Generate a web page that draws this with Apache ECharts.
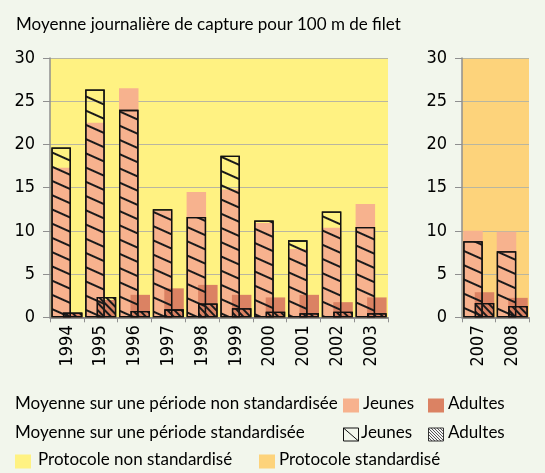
<!DOCTYPE html>
<html>
<head>
<meta charset="utf-8">
<script src="https://cdn.jsdelivr.net/npm/echarts@6/dist/echarts.min.js"></script>
<style>
html,body{margin:0;padding:0;background:#F2F6EC;}
#c{width:545px;height:473px;}
</style>
</head>
<body>
<div id="c"></div>
<script>
// Data
const years1 = ['1994','1995','1996','1997','1998','1999','2000','2001','2002','2003'];
const years2 = ['2007','2008'];
const jeunesNonStd1 = [17.3, 22.5, 26.5, 12.3, 14.5, 14.8, 10.9, 7.9, 10.35, 13.1];
const jeunesStd1    = [19.65, 26.35, 24.0, 12.5, 11.6, 18.7, 11.2, 8.9, 12.25, 10.45];
const adultesNonStd1 = [0.5, 2.0, 2.6, 3.35, 3.75, 2.6, 2.3, 2.6, 1.75, 2.3];
const adultesStd1    = [0.55, 2.35, 0.73, 0.92, 1.6, 1.04, 0.65, 0.46, 0.65, 0.46];
const jeunesNonStd2 = [10.0, 9.9];
const jeunesStd2    = [8.8, 7.65];
const adultesNonStd2 = [2.9, 2.25];
const adultesStd2    = [1.65, 1.3];
const yTicks = {min: 0, max: 30, interval: 5};

const title = 'Moyenne journalière de capture pour 100 m de filet';
const legendRow1 = 'Moyenne sur une période non standardisée';
const legendRow2 = 'Moyenne sur une période standardisée';
const legJeunes = 'Jeunes', legAdultes = 'Adultes';
const legProtoNon = 'Protocole non standardisé', legProto = 'Protocole standardisé';

const C = {
  bg: '#F2F6EC', yellow: '#FFF282', orange: '#FDD37B',
  pink: '#F7B28E', dark: '#DB8263', grid: '#B9B6A0', axis: '#8f8f8f', text: '#000000'
};
const txtFont = "Lato, 'Open Sans', sans-serif";
const numFont = "'DejaVu Sans Condensed', 'Liberation Sans Narrow', Lato, sans-serif";

const hatchJ = {symbol: 'rect', symbolSize: 1, dashArrayX: [1, 0], dashArrayY: [1.3, 11], rotation: 0.42, color: '#1a1a1a', backgroundColor: 'rgba(0,0,0,0)'};
const hatchA = {symbol: 'rect', symbolSize: 1, dashArrayX: [1, 0], dashArrayY: [1.2, 3], rotation: 0.8, color: '#1a1a1a', backgroundColor: 'rgba(0,0,0,0)'};

const BW = 19.5, GAP = '-41%';

function xAx(gridIndex, data, show) {
  return {
    type: 'category', gridIndex, data, show,
    axisLine: {show: true, lineStyle: {color: '#6e6e6e', width: 1.5}},
    axisTick: {show: true, length: 5, lineStyle: {color: C.axis}},
    axisLabel: {rotate: 90, fontFamily: numFont, fontSize: 18, color: C.text, margin: 8}
  };
}
function yAx(gridIndex) {
  return {
    type: 'value', gridIndex, min: yTicks.min, max: yTicks.max, interval: yTicks.interval,
    axisLine: {show: true, lineStyle: {color: C.axis, width: 1.5}},
    axisTick: {show: true, length: 7, lineStyle: {color: C.axis}},
    axisLabel: {fontFamily: numFont, fontSize: 18, color: C.text, margin: 15},
    splitLine: {show: true, lineStyle: {color: C.grid, width: 1.2}}
  };
}
function solid(name, xi, yi, data, color) {
  return {name, type: 'bar', xAxisIndex: xi, yAxisIndex: yi, data, barWidth: BW, barGap: GAP,
    itemStyle: {color}, silent: true, animation: false};
}
function hatched(name, xi, yi, data, decal) {
  return {name, type: 'bar', xAxisIndex: xi, yAxisIndex: yi, data, barWidth: BW, barGap: GAP,
    itemStyle: {color: 'rgba(0,0,0,0)', borderColor: '#111', borderWidth: 1.3, decal}, silent: true, animation: false};
}

function patternCanvas() {
  const cv = document.createElement('canvas');
  cv.width = 3; cv.height = 3;
  const g = cv.getContext('2d');
  g.fillStyle = '#f4f4f4'; g.fillRect(0, 0, 3, 3);
  g.fillStyle = '#555';
  g.fillRect(0, 0, 1, 1); g.fillRect(1, 1, 1, 1); g.fillRect(2, 2, 1, 1);
  return cv;
}

const chart = echarts.init(document.getElementById('c'), null, {renderer: 'canvas'});
const L1 = 405.5, L2 = 434.5, L3 = 461.5;
const sw = 16, sh = 14;
const lf = "17px " + txtFont;
chart.setOption({
  backgroundColor: C.bg,
  animation: false,
  title: {text: title, left: 11, top: 11, textStyle: {fontFamily: txtFont, fontSize: 17, fontWeight: 'normal', color: C.text}},
  grid: [
    {left: 50, top: 58, width: 338, height: 259.3, show: true, backgroundColor: C.yellow, borderWidth: 0},
    {left: 462, top: 58, width: 67, height: 259.3, show: true, backgroundColor: C.orange, borderWidth: 0}
  ],
  xAxis: [xAx(0, years1, true), xAx(0, years1, false), xAx(1, years2, true), xAx(1, years2, false)],
  yAxis: [yAx(0), yAx(1)],
  series: [
    solid('Jeunes NS', 0, 0, jeunesNonStd1, C.pink),
    solid('Adultes NS', 0, 0, adultesNonStd1, C.dark),
    hatched('Jeunes S', 1, 0, jeunesStd1, hatchJ),
    hatched('Adultes S', 1, 0, adultesStd1, hatchA),
    solid('Jeunes NS', 2, 1, jeunesNonStd2, C.pink),
    solid('Adultes NS', 2, 1, adultesNonStd2, C.dark),
    hatched('Jeunes S', 3, 1, jeunesStd2, hatchJ),
    hatched('Adultes S', 3, 1, adultesStd2, hatchA)
  ],
  graphic: [
    {type: 'text', left: 15, top: L1 - 10, style: {text: legendRow1, font: lf, fill: C.text}},
    {type: 'rect', shape: {x: 343, y: L1 - 7, width: sw, height: sh}, style: {fill: C.pink}},
    {type: 'text', left: 363, top: L1 - 10, style: {text: legJeunes, font: lf, fill: C.text}},
    {type: 'rect', shape: {x: 428, y: L1 - 7, width: sw, height: sh}, style: {fill: C.dark}},
    {type: 'text', left: 448, top: L1 - 10, style: {text: legAdultes, font: lf, fill: C.text}},

    {type: 'text', left: 15, top: L2 - 10, style: {text: legendRow2, font: lf, fill: C.text}},
    {type: 'rect', shape: {x: 343.5, y: L2 - 6.5, width: sw - 1, height: sh - 1}, style: {fill: 'rgba(0,0,0,0)', stroke: '#111', lineWidth: 1}},
    {type: 'line', shape: {x1: 343.5, y1: L2 - 6.5, x2: 343.5 + sw - 1, y2: L2 - 6.5 + sh - 1}, style: {stroke: '#111', lineWidth: 1}},
    {type: 'text', left: 361, top: L2 - 10, style: {text: legJeunes, font: lf, fill: C.text}},
    {type: 'rect', shape: {x: 428.5, y: L2 - 6.5, width: sw - 1, height: sh - 1}, style: {fill: {image: patternCanvas(), repeat: 'repeat'}, stroke: '#333', lineWidth: 1}},
    {type: 'text', left: 448, top: L2 - 10, style: {text: legAdultes, font: lf, fill: C.text}},

    {type: 'rect', shape: {x: 15, y: L3 - 7, width: sw, height: sh}, style: {fill: C.yellow}},
    {type: 'text', left: 38, top: L3 - 10, style: {text: legProtoNon, font: lf, fill: C.text}},
    {type: 'rect', shape: {x: 259, y: L3 - 7, width: sw, height: sh}, style: {fill: C.orange}},
    {type: 'text', left: 279, top: L3 - 10, style: {text: legProto, font: lf, fill: C.text}}
  ]
});
</script>
</body>
</html>
